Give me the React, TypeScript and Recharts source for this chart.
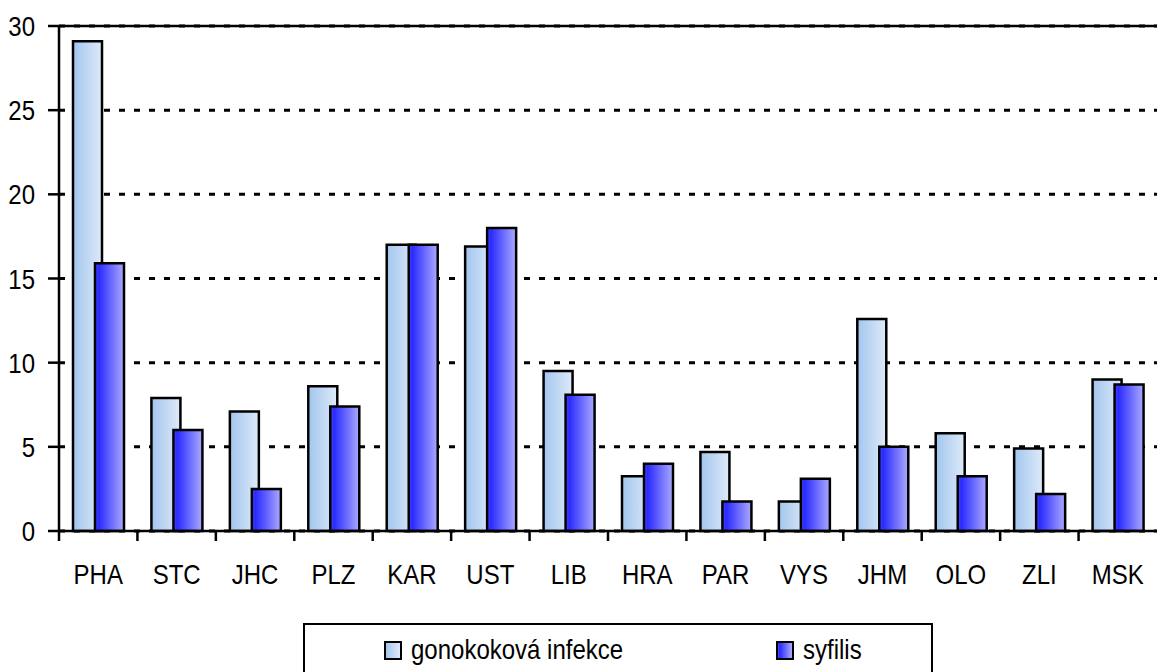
import React from 'react';
import {
  BarChart,
  Bar,
  XAxis,
  YAxis,
  CartesianGrid,
  ReferenceLine,
  Legend,
} from 'recharts';

const regions = ['PHA', 'STC', 'JHC', 'PLZ', 'KAR', 'UST', 'LIB', 'HRA', 'PAR', 'VYS', 'JHM', 'OLO', 'ZLI', 'MSK'];
const gonorrhoea = [29.1, 7.9, 7.1, 8.6, 17.0, 16.9, 9.5, 3.25, 4.7, 1.75, 12.6, 5.8, 4.9, 9.0];
const syphilis = [15.9, 6.0, 2.5, 7.4, 17.0, 18.0, 8.1, 4.0, 1.75, 3.1, 5.0, 3.25, 2.2, 8.7];
const yTicks = [0, 5, 10, 15, 20, 25, 30];

const rows = regions.map((region, i) => ({
  region,
  gono: gonorrhoea[i],
  syf: syphilis[i],
}));

const W = 1157;
const H = 672;
const AXIS_W = 59;
const XAXIS_H = 141;
const FONT = '"Liberation Sans", Arial, sans-serif';
const STRETCH = 1.17; // the original text is taller than it is wide

const swatch: Record<string, string> = {
  gono: 'linear-gradient(to right, #a2c6ee, #dfeaf9)',
  syf: 'linear-gradient(to right, #4b4bff, #2a2aff 12%, #aaaaff)',
};

function YTick({ x, y, payload }: any) {
  return (
    <text
      transform={`translate(${x},${y}) scale(1,${STRETCH})`}
      textAnchor="end"
      dy="0.36em"
      fontSize={24}
      fontFamily={FONT}
      fill="#000"
    >
      {payload.value}
    </text>
  );
}

function XTick({ x, y, payload }: any) {
  const half = (W - AXIS_W) / regions.length / 2;
  return (
    <g>
      <line x1={x - half} x2={x - half} y1={y} y2={y + 10} stroke="#000" strokeWidth={2.5} />
      <text
        transform={`translate(${x},${y + 53}) scale(1,${STRETCH})`}
        textAnchor="middle"
        fontSize={24}
        fontFamily={FONT}
        fill="#000"
      >
        {payload.value}
      </text>
    </g>
  );
}

function LegendBox({ payload }: any) {
  const lefts = [79, 471];
  return (
    <div
      style={{
        position: 'relative',
        width: 630,
        height: 60,
        border: '2px solid #000',
        boxSizing: 'border-box',
        background: '#fff',
      }}
    >
      {(payload || []).map((item: any, i: number) => (
        <div
          key={item.value}
          style={{ position: 'absolute', left: lefts[i], top: 13, display: 'flex', alignItems: 'center' }}
        >
          <span
            style={{
              display: 'inline-block',
              width: 14,
              height: 15,
              border: '2px solid #000',
              background: swatch[item.dataKey],
            }}
          />
          <span
            style={{
              marginLeft: 9,
              fontFamily: FONT,
              fontSize: 24,
              lineHeight: '24px',
              color: '#000',
              display: 'inline-block',
              transform: `scaleY(${STRETCH})`,
            }}
          >
            {item.value}
          </span>
        </div>
      ))}
    </div>
  );
}

export default function App() {
  return (
    <div style={{ position: 'absolute', left: 0, top: 0, width: W, height: H, background: '#fff' }}>
      <BarChart
        width={W}
        height={H}
        data={rows}
        margin={{ top: 26, right: 0, left: 0, bottom: 0 }}
        barGap={-7}
      >
        <defs>
          <linearGradient id="gonoFill" x1="0" y1="0" x2="1" y2="0">
            <stop offset="0%" stopColor="#a2c6ee" />
            <stop offset="100%" stopColor="#dfeaf9" />
          </linearGradient>
          <linearGradient id="syfFill" x1="0" y1="0" x2="1" y2="0">
            <stop offset="0%" stopColor="#4b4bff" />
            <stop offset="12%" stopColor="#2a2aff" />
            <stop offset="100%" stopColor="#aaaaff" />
          </linearGradient>
        </defs>
        <CartesianGrid vertical={false} stroke="#000" strokeWidth={3} strokeDasharray="6 9" />
        <XAxis
          dataKey="region"
          height={XAXIS_H}
          interval={0}
          axisLine={{ stroke: '#000', strokeWidth: 2.5 }}
          tickLine={false}
          tickSize={0}
          tickMargin={0}
          tick={<XTick />}
        />
        <YAxis
          width={AXIS_W}
          domain={[0, 30]}
          ticks={yTicks}
          interval={0}
          axisLine={{ stroke: '#000', strokeWidth: 2.5 }}
          tickLine={{ stroke: '#000', strokeWidth: 2.5 }}
          tickSize={11}
          tickMargin={13}
          tick={<YTick />}
        />
        <ReferenceLine y={30} stroke="#000" strokeWidth={2.5} />
        <Legend
          layout="vertical"
          align="center"
          verticalAlign="middle"
          wrapperStyle={{ left: 303, top: 623, width: 630, height: 60 }}
          content={<LegendBox />}
        />
        <Bar
          dataKey="gono"
          name="gonokoková infekce"
          fill="url(#gonoFill)"
          stroke="#000"
          strokeWidth={2.5}
          barSize={29}
          isAnimationActive={false}
        />
        <Bar
          dataKey="syf"
          name="syfilis"
          fill="url(#syfFill)"
          stroke="#000"
          strokeWidth={2.5}
          barSize={29}
          isAnimationActive={false}
        />
      </BarChart>
    </div>
  );
}
